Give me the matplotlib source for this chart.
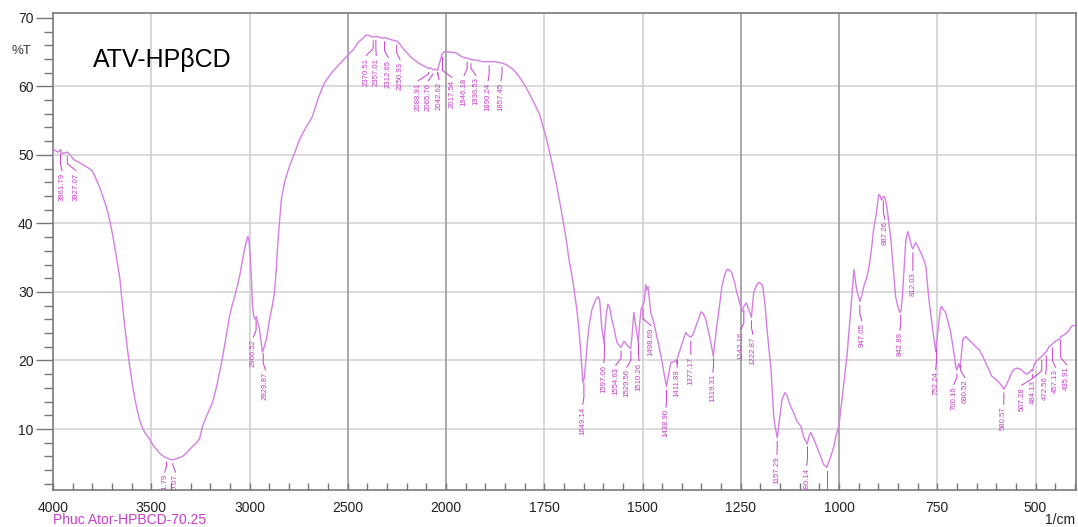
import numpy as np
import matplotlib
matplotlib.use("Agg")
import matplotlib.pyplot as plt
from matplotlib import font_manager
from matplotlib.ticker import FixedLocator, NullFormatter

# spectrum: wavenumber (1/cm) and %T
wavenumber = [
    4000, 3997, 3985, 3975, 3968, 3961, 3954, 3940, 3927, 3910, 3895, 3873, 3855, 3838,
    3820, 3802, 3787, 3772, 3759, 3746, 3733, 3721, 3708, 3695, 3675, 3660, 3648, 3635,
    3622, 3609, 3596, 3584, 3571, 3558, 3545, 3533, 3508, 3490, 3472, 3455, 3437, 3416,
    3398, 3380, 3360, 3340, 3315, 3289, 3270, 3254, 3239, 3214, 3188, 3165, 3142, 3122,
    3102, 3089, 3076, 3063, 3051, 3038, 3025, 3016, 3008, 3002, 2995, 2990, 2985, 2978,
    2970, 2966, 2960, 2949, 2940, 2934, 2925, 2914, 2898, 2885, 2873, 2863, 2858, 2848,
    2838, 2820, 2797, 2770, 2746, 2713, 2680, 2650, 2619, 2579, 2543, 2508, 2470, 2447,
    2420, 2406, 2390, 2376, 2366, 2357, 2340, 2320, 2312, 2299, 2280, 2264, 2250, 2238,
    2228, 2212, 2198, 2180, 2162, 2140, 2122, 2100, 2089, 2078, 2066, 2055, 2043, 2035,
    2025, 2018, 2010, 2000, 1992, 1975, 1959, 1946, 1936, 1920, 1908, 1890, 1875, 1858,
    1848, 1840, 1830, 1822, 1810, 1797, 1785, 1771, 1762, 1756, 1745, 1733, 1720, 1707,
    1695, 1687, 1677, 1667, 1661, 1657, 1652, 1648, 1644, 1640, 1636, 1629, 1619, 1613,
    1609, 1604, 1598, 1593, 1588, 1584, 1578, 1570, 1565, 1555, 1547, 1540, 1530, 1526,
    1522, 1517, 1511, 1507, 1504, 1496, 1492, 1489, 1486, 1479, 1471, 1458, 1451, 1445,
    1439, 1434, 1428, 1420, 1412, 1402, 1390, 1383, 1377, 1370, 1364, 1351, 1345, 1339,
    1326, 1320, 1311, 1304, 1298, 1291, 1285, 1279, 1273, 1266, 1260, 1253, 1247, 1242,
    1236, 1230, 1223, 1217, 1210, 1204, 1198, 1194, 1188, 1184, 1178, 1173, 1166, 1163,
    1157, 1152, 1145, 1138, 1132, 1123, 1115, 1107, 1097, 1090, 1081, 1076, 1072, 1068,
    1064, 1051, 1039, 1031, 1021, 1013, 1008, 1000, 993, 987, 980, 975, 970, 966,
    962, 958, 955, 947, 942, 937, 930, 924, 918, 912, 905, 899, 895, 892,
    887, 884, 879, 873, 868, 862, 856, 850, 845, 842, 838, 835, 830, 825,
    820, 815, 812, 805, 798, 792, 785, 779, 772, 765, 759, 754, 750, 746,
    742, 739, 734, 729, 722, 716, 710, 703, 700, 696, 693, 690, 685, 678,
    670, 662, 652, 644, 635, 627, 619, 611, 600, 593, 586, 580, 574, 568,
    560, 555, 546, 538, 530, 522, 515, 509, 507, 503, 498, 490, 484, 478,
    472, 466, 457, 450, 439, 436, 428, 419, 413, 408, 397,
]
transmittance = [
    48.6, 50.8, 50.6, 50.4, 50.5, 50.8, 50.2, 50.3, 50.4, 49.9, 49.3, 49.0, 48.7, 48.4,
    48.1, 47.7, 46.9, 45.9, 45.0, 43.9, 42.8, 41.6, 40.0, 38.1, 34.7, 32.0, 28.5, 25.0,
    21.8, 19.0, 16.5, 14.5, 12.7, 11.2, 10.2, 9.5, 8.5, 7.6, 7.0, 6.4, 6.0, 5.7,
    5.5, 5.6, 5.8, 6.0, 6.7, 7.5, 8.0, 8.6, 10.4, 12.2, 13.9, 16.5, 19.7, 23.0,
    26.4, 28.0, 29.3, 30.7, 32.2, 34.3, 36.2, 37.4, 38.1, 37.3, 34.5, 31.8, 28.0, 26.4,
    26.0, 26.4, 25.8, 24.5, 22.5, 21.2, 22.0, 23.1, 26.0, 27.8, 29.9, 33.5, 36.2, 40.0,
    43.5, 46.2, 48.3, 50.3, 52.2, 54.0, 55.6, 58.3, 60.5, 62.1, 63.2, 64.3, 65.4, 66.4,
    67.1, 67.5, 67.4, 67.2, 67.2, 67.3, 67.2, 67.0, 67.1, 67.0, 66.8, 66.7, 66.6, 66.3,
    65.9, 65.3, 64.9, 64.3, 63.9, 63.4, 63.1, 62.8, 62.6, 62.7, 62.4, 62.5, 62.3, 63.2,
    64.2, 64.8, 65.0, 65.1, 65.0, 64.9, 64.3, 64.1, 63.9, 63.8, 63.6, 63.6, 63.6, 63.4,
    63.2, 62.9, 62.5, 62.0, 61.1, 59.9, 58.6, 57.0, 55.9, 54.7, 52.5, 49.5, 46.0, 42.0,
    38.0, 34.7, 31.5, 27.4, 24.0, 21.2, 16.8, 17.5, 20.1, 22.8, 25.0, 27.4, 28.9, 29.3,
    28.8, 25.0, 22.6, 26.4, 28.2, 27.8, 26.0, 24.0, 22.6, 21.9, 22.8, 22.3, 21.7, 24.0,
    27.0, 25.0, 22.6, 25.5, 27.4, 28.5, 31.1, 30.3, 30.8, 27.0, 25.5, 22.0, 20.1, 18.0,
    16.2, 17.8, 19.7, 19.8, 20.2, 22.0, 24.1, 23.6, 23.4, 24.0, 25.0, 27.1, 26.8, 26.0,
    22.6, 20.6, 25.0, 28.0, 30.8, 32.5, 33.3, 33.2, 32.8, 31.5, 29.9, 28.5, 27.1, 27.9,
    28.4, 27.5, 26.3, 29.9, 31.0, 31.4, 31.2, 30.8, 28.0, 25.0, 21.5, 18.7, 11.8, 10.5,
    8.7, 11.2, 14.3, 15.3, 14.8, 13.3, 12.3, 11.1, 10.4, 8.8, 7.8, 9.0, 9.5, 9.0,
    8.5, 6.6, 4.8, 4.4, 6.0, 7.5, 8.9, 10.6, 14.0, 17.0, 20.5, 24.0, 27.5, 30.5,
    33.3, 31.5, 30.3, 28.6, 29.5, 30.8, 32.0, 33.5, 36.0, 39.1, 41.5, 44.2, 44.0, 43.4,
    43.9, 43.9, 42.7, 40.0, 37.6, 33.5, 29.3, 27.8, 27.0, 27.3, 30.0, 32.8, 37.6, 38.8,
    37.8, 36.6, 36.3, 37.2, 36.5, 35.7, 34.8, 33.7, 29.3, 26.0, 23.5, 21.3, 23.5, 25.5,
    27.5, 27.9, 27.4, 27.0, 25.5, 24.1, 22.0, 19.1, 18.6, 19.5, 19.0, 20.1, 23.1, 23.5,
    23.0, 22.6, 22.0, 21.6, 20.7, 19.7, 18.7, 17.7, 17.2, 16.8, 16.3, 15.8, 16.5, 17.2,
    18.3, 18.7, 18.9, 18.7, 18.3, 18.0, 18.3, 18.7, 18.5, 19.5, 19.9, 20.3, 20.6, 21.0,
    21.3, 22.0, 22.4, 22.8, 23.1, 23.5, 23.7, 24.1, 24.6, 25.0, 25.2,
]

# peak labels: text, and where the rotated label sits (wavenumber, top in %T)
peak_labels = [
    "3961.79", "3927.07", "3421.79", "3390.07", "2966.52", "2929.87",
    "2370.51", "2357.01", "2312.65", "2250.93", "2088.91", "2065.76", "2042.62",
    "2017.54", "1946.18", "1936.53", "1890.24", "1857.45",
    "1649.14", "1597.06", "1554.63", "1529.56", "1510.26", "1498.69", "1438.90",
    "1411.89", "1377.17", "1319.31", "1242.16", "1222.87", "1157.29", "1080.14",
    "947.05", "887.26", "842.89", "812.03", "752.24", "700.16", "690.52",
    "580.57", "507.28", "484.13", "472.56", "457.13", "435.91",
]
label_x = [
    3954, 3883, 3431, 3376, 2980, 2919,
    2406, 2355, 2294, 2234, 2142, 2091, 2036,
    1985, 1954, 1924, 1893, 1860,
    1652, 1598, 1568, 1540, 1509, 1479, 1440,
    1412, 1377, 1321, 1250, 1219, 1158, 1082,
    942, 883, 845, 812, 754, 708, 680,
    581, 535, 505, 474, 449, 421,
]
label_top = [
    47.4, 47.4, 3.4, 3.4, 23.1, 18.3,
    64.2, 64.2, 63.9, 63.6, 60.5, 60.5, 60.7,
    61.0, 61.3, 61.3, 60.5, 60.5,
    13.3, 19.4, 19.0, 18.7, 19.7, 24.8, 12.9,
    18.7, 20.6, 18.0, 24.2, 23.5, 6.0, 4.4,
    25.5, 40.3, 24.1, 32.8, 18.4, 16.2, 17.2,
    13.3, 16.1, 17.2, 17.7, 18.7, 19.1,
]

major_ticks = [4000, 3500, 3000, 2500, 2000, 1750, 1500, 1250, 1000, 750, 500]
dark_grid = [2500, 2000, 1250, 1000]
y_ticks = [10, 20, 30, 40, 50, 60, 70]

line_col = "#d57ee6"
label_col = "#c83ccb"

names = {f.name for f in font_manager.fontManager.ttflist}
if "Liberation Sans Narrow" in names:
    lab_font, lab_size = "Liberation Sans Narrow", 6.6
else:
    lab_font, lab_size = "Liberation Sans", 5.6
plt.rcParams["font.family"] = ["Liberation Sans", "DejaVu Sans"]


# shimadzu style axis: scale doubles below 2000 1/cm
def fwd(x):
    x = np.asarray(x, dtype=float)
    return np.where(x >= 2000, x, 2 * x - 2000)


def inv(y):
    y = np.asarray(y, dtype=float)
    return np.where(y >= 2000, y, (y + 2000) / 2)


fig = plt.figure(figsize=(10.78, 5.27), dpi=100)
ax = fig.add_axes([53 / 1078, 1 - 490 / 527, 1023 / 1078, 477 / 527])
ax.set_xscale("function", functions=(fwd, inv))
ax.set_xlim(4000, 397)
ax.set_ylim(1.1, 70.7)

for yv in y_ticks[:-1]:
    ax.axhline(yv, color="#d9d9d9", lw=1.3, zorder=0)
for xv in major_ticks[1:]:
    c = "#a3a3a3" if xv in dark_grid else "#d3d3d3"
    ax.axvline(xv, color=c, lw=1.3, zorder=0)

wn = np.array(wavenumber, dtype=float)
tr = np.array(transmittance, dtype=float)
ax.plot(wn, tr, color=line_col, lw=1.0, zorder=3)

# leaders and rotated labels under each picked peak
for txt, lx, lt in zip(peak_labels, label_x, label_top):
    p = float(txt)
    tc = np.interp(p, wn[::-1], tr[::-1])
    ax.plot([p, p, lx], [tc - 0.6, lt + 1.3, lt + 0.3], color=label_col, lw=0.7, zorder=4)
    ax.text(lx, lt, txt, rotation=90, ha="center", va="top", color=label_col,
            fontsize=lab_size, family=[lab_font, "DejaVu Sans"], zorder=4, clip_on=True)
# band at 1031 has its label cut off by the axis
p = 1031
tc = np.interp(p, wn[::-1], tr[::-1])
ax.plot([p, p], [tc - 0.6, 1.1], color=label_col, lw=0.7, zorder=4)

ax.xaxis.set_major_locator(FixedLocator(major_ticks))
minor = list(range(4000, 2000, -100)) + list(range(2000, 397, -50))
ax.xaxis.set_minor_locator(FixedLocator(minor))
ax.xaxis.set_major_formatter(matplotlib.ticker.FuncFormatter(lambda v, pos: "%d" % round(v)))
ax.xaxis.set_minor_formatter(NullFormatter())
ax.yaxis.set_major_locator(FixedLocator(y_ticks))
ax.yaxis.set_minor_locator(FixedLocator(np.arange(2, 71, 2)))

ax.tick_params(axis="x", which="both", direction="in", length=5, width=1,
               color="#777777", labelcolor="#222222", labelsize=10, pad=8)
ax.tick_params(axis="y", which="major", direction="out", length=12, width=1,
               color="#777777", labelcolor="#222222", labelsize=10, pad=2)
ax.tick_params(axis="y", which="minor", direction="out", length=6.5, width=1,
               color="#777777")
for s in ax.spines.values():
    s.set_color("#7a7a7a")
    s.set_linewidth(1.2)

fig.text(93 / 1078, 1 - 66.5 / 527, "ATV-HP\u03b2CD", fontsize=18, ha="left", va="baseline")
fig.text(11 / 1078, 1 - 51 / 527, "%T", fontsize=9.5, ha="left", va="center", color="#333333")
fig.text(53 / 1078, 1 - 520 / 527, "Phuc Ator-HPBCD-70.25", fontsize=10, ha="left",
         va="center", color="#c83ccb")
fig.text(1075 / 1078, 1 - 520 / 527, "1/cm", fontsize=10, ha="right", va="center",
         color="#222222")

fig.savefig("out.png", dpi=100)
